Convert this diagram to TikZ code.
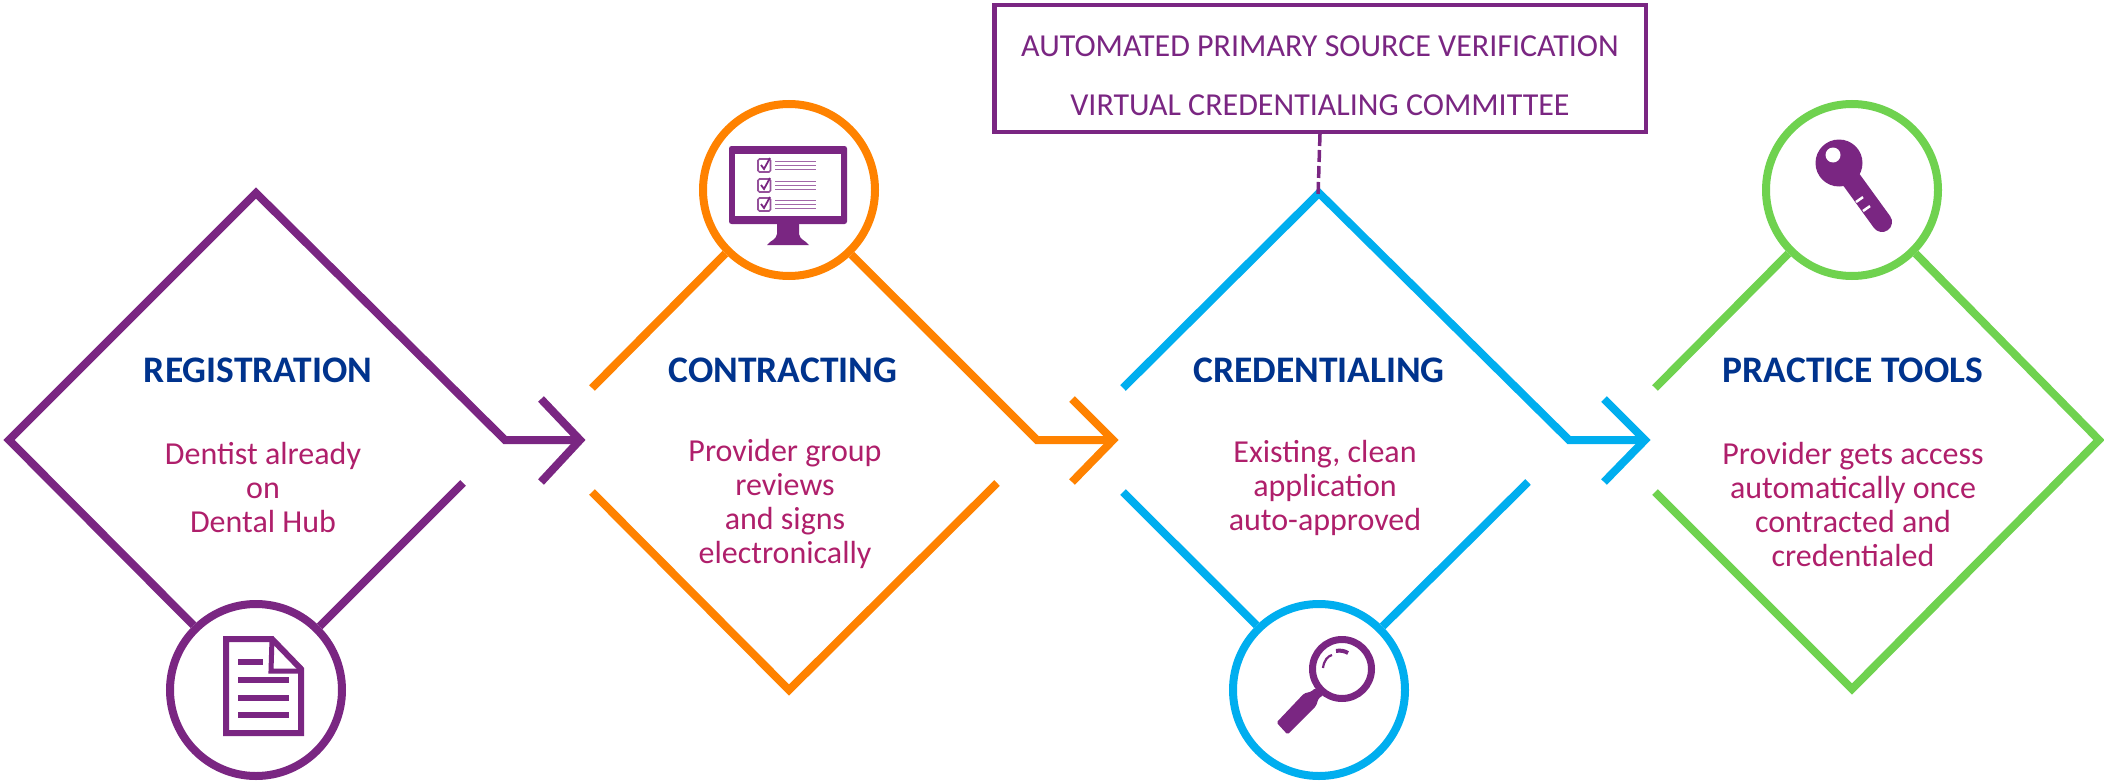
\documentclass[tikz,border=0pt]{standalone}
\usepackage{fontspec}
\setmainfont{Carlito}
\definecolor{cpurple}{HTML}{7A2682}
\definecolor{corange}{HTML}{FF8200}
\definecolor{cblue}{HTML}{00AEEF}
\definecolor{cgreen}{HTML}{6FD24F}
\definecolor{cnavy}{HTML}{00338D}
\definecolor{cbody}{HTML}{AF1F6B}
\tikzset{
  flow/.style={line width=8bp,miter limit=10,line join=miter},
  ring/.style={circle,draw,fill=white,line width=8bp,inner sep=0pt,minimum size=172bp},
  stagetitle/.style={font=\fontsize{37.5bp}{40bp}\selectfont\bfseries,text=cnavy,inner sep=0pt},
  stagebody/.style={font=\fontsize{32bp}{34bp}\selectfont,text=cbody,align=center,inner sep=0pt},
  boxtext/.style={font=\fontsize{32bp}{59bp}\selectfont,text=cpurple,align=center,inner sep=0pt},
  iconstroke/.style={draw=cpurple,line join=miter},
  iconfill/.style={fill=cpurple,draw=none},
}
\begin{document}
\begin{tikzpicture}[x=1bp,y=-1bp]
\useasboundingbox (0,0) rectangle (2104,782);

% rings
\node[ring,draw=cpurple] (r1) at (256,690) {};
\node[ring,draw=corange] (r2) at (789,190) {};
\node[ring,draw=cblue] (r3) at (1319,690) {};
\node[ring,draw=cgreen] (r4) at (1852,190) {};

% stage 1
\coordinate (a1l) at (9,440); \coordinate (a1t) at (256,193);
\coordinate (a1e) at (505,440); \coordinate (a1x) at (580,440);
\coordinate (a1u) at (541,399); \coordinate (a1d) at (541,482);
\coordinate (a1b) at (463,483);
\draw[flow,cpurple] (r1.134) -- (a1l) -- (a1t) -- (a1e) -- (a1x);
\draw[flow,cpurple] (a1u) -- (a1x) -- (a1d);
\draw[flow,cpurple] (a1b) -- (r1.45);

% stage 2
\coordinate (a2a) at (592,388); \coordinate (a2e) at (1037,440);
\coordinate (a2x) at (1113,440); \coordinate (a2u) at (1072,399);
\coordinate (a2d) at (1072,482); \coordinate (a2c) at (592,492);
\coordinate (a2o) at (789,690); \coordinate (a2b) at (997,483);
\draw[flow,corange] (a2a) -- (r2.225);
\draw[flow,corange] (r2.-46) -- (a2e) -- (a2x);
\draw[flow,corange] (a2u) -- (a2x) -- (a2d);
\draw[flow,corange] (a2c) -- (a2o) -- (a2b);

% stage 3
\coordinate (a3a) at (1123,388); \coordinate (a3t) at (1319,193);
\coordinate (a3e) at (1569,440); \coordinate (a3x) at (1645,440);
\coordinate (a3u) at (1604,399); \coordinate (a3d) at (1604,482);
\coordinate (a3c) at (1123,492); \coordinate (a3b) at (1528,482);
\draw[flow,cblue] (a3a) -- (a3t) -- (a3e) -- (a3x);
\draw[flow,cblue] (a3u) -- (a3x) -- (a3d);
\draw[flow,cblue] (a3c) -- (r3.134);
\draw[flow,cblue] (a3b) -- (r3.45);

% stage 4
\coordinate (a4a) at (1655,388); \coordinate (a4r) at (2099,440);
\coordinate (a4o) at (1852,689); \coordinate (a4c) at (1655,492);
\draw[flow,cgreen] (a4a) -- (r4.225);
\draw[flow,cgreen] (r4.-45) -- (a4r) -- (a4o) -- (a4c);

% note box
\node[draw=cpurple,line width=4.5bp,minimum width=651.5bp,minimum height=126.5bp,inner sep=0pt] (note) at (1320,68.5) {};
\node[boxtext] (notetext) at (1320,76) {AUTOMATED PRIMARY SOURCE VERIFICATION\\VIRTUAL CREDENTIALING COMMITTEE};
\draw[cpurple,line width=3.5bp,dash pattern=on 12bp off 4bp] (note.south) -- (1318,197);

% texts
\node[stagetitle] (t1) at (258,370) {REGISTRATION};
\node[stagebody] (b1) at (263,488) {Dentist already\\on\\Dental Hub};
\node[stagetitle] (t2) at (783,370) {CONTRACTING};
\node[stagebody] (b2) at (785,504) {Provider group\\reviews\\and signs\\electronically};
\node[stagetitle] (t3) at (1319,370) {CREDENTIALING};
\node[stagebody] (b3) at (1325,488) {Existing, clean\\application\\auto-approved};
\node[stagetitle] (t4) at (1853,370) {PRACTICE TOOLS};
\node[stagebody] (b4) at (1853,505) {Provider gets access\\automatically once\\contracted and\\credentialed};

% document icon
\draw[iconstroke,line width=6bp,fill=white] (226,639) -- (272,639) -- (301,669) -- (301,733) -- (226,733) -- cycle;
\draw[iconstroke,line width=5bp] (272,639) -- (271,671) -- (301,671);
\foreach \yy/\xe in {662/263,680/289,698/289,715/289}
  \draw[cpurple,line width=5.5bp] (238,\yy) -- (\xe,\yy);

% monitor icon
\fill[iconfill,rounded corners=2.5bp] (729,146) rectangle (847,224);
\fill[white] (735,154) rectangle (841,216);
\fill[iconfill] (777,222) -- (799,222) -- (799,234) .. controls (800,240) and (805,240) .. (809,245) -- (767,245) .. controls (771,240) and (776,240) .. (777,234) -- cycle;
\foreach \yy in {159,179,198}{
  \draw[cpurple!80,line width=1.6bp,rounded corners=1.5bp] (758,\yy) rectangle +(12.5,13);
  \draw[cpurple,line width=1.8bp] (761,\yy+6) -- (764,\yy+10) -- (770,\yy-1);
  \foreach \dd in {2.5,6.5,10.5}
    \draw[cpurple!70,line width=1.5bp] (775,\yy+\dd) -- (816,\yy+\dd);
}

% magnifier icon
\draw[cpurple,line width=7bp] (1342,669) circle (29.5);
\fill[iconfill,rounded corners=1.5bp] (1276.5,722.5) -- (1287.5,734.5) -- (1316,706) -- (1318.5,698.5) -- (1323.5,695) -- (1315,688) -- (1311.5,691.5) -- (1304,693.5) -- cycle;
\draw[cpurple,line width=2.2bp] (1323,668) .. controls (1324,660) and (1328,656) .. (1332,655);
\draw[cpurple,line width=4bp] (1336,651) .. controls (1340,650) and (1345,651) .. (1348,653);

% key icon
\fill[iconfill] (1839,163) circle (23.5);
\draw[cpurple,line width=20bp,line cap=round] (1845,171) -- (1882,222);
\fill[white] (1833,155) circle (7.5);
\foreach \xx/\yy in {1856/202,1863/211}
  \draw[white,line width=2.5bp] (\xx,\yy) -- (\xx+7,\yy-4.9);
\end{tikzpicture}
\end{document}
